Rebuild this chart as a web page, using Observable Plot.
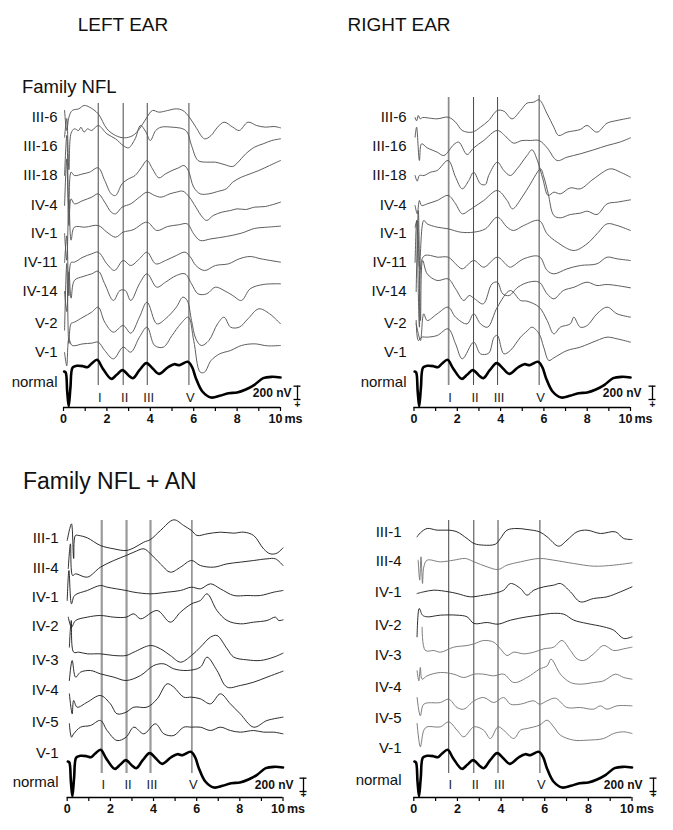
<!DOCTYPE html>
<html><head><meta charset="utf-8">
<script src="https://cdn.jsdelivr.net/npm/d3@7"></script>
<script src="https://cdn.jsdelivr.net/npm/@observablehq/plot@0.6"></script>
<style>
body{margin:0;background:#fff;}
#fig{position:relative;width:673px;height:830px;overflow:hidden;font-family:"Liberation Sans",Arial,sans-serif;background:#fff;}
.panel{position:absolute;}
#titles{position:absolute;left:0;top:0;}
</style></head><body><div id="fig"></div>
<script>
// ---------------- DATA ----------------
const earTitles = ["LEFT EAR", "RIGHT EAR"];
const familyTitles = ["Family NFL", "Family NFL + AN"];
const nflRows = ["III-6","III-16","III-18","IV-4","IV-1","IV-11","IV-14","V-2","V-1"];
const anRows = ["III-1","III-4","IV-1","IV-2","IV-3","IV-4","IV-5","V-1"];
const normalName = "normal";
const waveLabels = ["I","II","III","V"];
const waveLatencyMs = [1.6, 2.75, 3.86, 5.78];
const axisTicksMs = [0,1,2,3,4,5,6,7,8,9,10];
const xTickLabels = [0,2,4,6,8,10];
const timeUnit = "ms";
const scaleBarNV = 200;

// normal reference waveform: [ms, nV above axis]
const normalWave = [[0.03,540],[0.1,525],[0.17,240],[0.24,15],[0.32,300],[0.42,600],[0.6,625],[0.9,620],[1.1,605],[1.3,660],[1.55,715],[1.8,590],[2.2,430],[2.45,490],[2.72,560],[3.0,480],[3.2,440],[3.5,560],[3.82,665],[4.1,590],[4.4,505],[4.8,600],[5.1,650],[5.35,635],[5.72,685],[5.92,610],[6.1,440],[6.4,240],[6.8,150],[7.2,175],[7.6,215],[8.0,225],[8.4,270],[8.8,340],[9.2,440],[9.6,460],[10,450]];

// Family NFL, left ear: [ms, nV relative to row]
const nflLeftTraces = [
 [[0.05,105],[0.15,-195],[0.25,5],[0.4,105],[0.7,130],[0.95,180],[1.2,155],[1.6,55],[2.0,-170],[2.4,-270],[2.8,-305],[3.2,-270],[3.5,-170],[3.8,-20],[4.1,105],[4.4,80],[4.8,105],[5.2,130],[5.5,105],[5.8,5],[6.1,-145],[6.5,-320],[6.8,-270],[7.1,-145],[7.4,-70],[7.8,-145],[8.1,-195],[8.5,-70],[8.9,-120],[9.3,-145],[9.7,-135],[10,-155]],
 [[0.05,140],[0.15,420],[0.25,-350],[0.35,200],[0.5,265],[0.7,240],[0.8,290],[0.95,215],[1.1,265],[1.3,240],[1.6,315],[2.0,190],[2.4,115],[2.75,15],[3.0,-20],[3.3,115],[3.55,315],[3.8,215],[4.0,90],[4.25,240],[4.5,290],[5.0,290],[5.5,265],[5.7,215],[5.9,15],[6.2,-210],[6.6,-235],[7.0,-235],[7.4,-270],[7.8,-300],[8.0,-250],[8.4,-110],[8.8,-10],[9.2,40],[9.6,90],[10,115]],
 [[0.05,0],[0.15,600],[0.25,-500],[0.35,50],[0.5,0],[0.9,25],[1.2,50],[1.6,115],[1.9,-75],[2.2,-275],[2.4,-300],[2.7,-125],[3.0,-50],[3.3,0],[3.6,125],[3.85,225],[4.1,100],[4.4,-35],[4.7,25],[5.0,75],[5.3,115],[5.55,150],[5.75,75],[6.0,-175],[6.3,-275],[6.7,-275],[7.1,-240],[7.5,-200],[7.8,-100],[8.2,-25],[8.6,25],[9.0,75],[9.5,150],[10,225]],
 [[0.05,0],[0.15,700],[0.25,-300],[0.35,100],[0.5,25],[0.9,75],[1.3,125],[1.6,175],[1.9,50],[2.2,-100],[2.4,-125],[2.7,-25],[3.1,25],[3.5,125],[3.85,200],[4.2,150],[4.5,125],[4.9,175],[5.2,200],[5.5,215],[5.8,125],[6.1,-25],[6.4,-175],[6.6,-225],[6.9,-150],[7.3,-100],[7.7,-75],[8.0,-50],[8.4,-60],[8.8,-25],[9.3,-15],[10,50]],
 [[0.05,0],[0.15,-400],[0.25,500],[0.35,-100],[0.5,95],[1.0,95],[1.6,120],[2.0,20],[2.4,-55],[2.75,20],[3.2,55],[3.85,170],[4.3,45],[4.8,105],[5.3,130],[5.7,145],[6.0,-5],[6.3,-105],[6.8,-80],[7.5,-45],[8.2,5],[8.8,75],[9.4,95],[10,110]],
 [[0.05,0],[0.15,400],[0.25,-500],[0.35,0],[0.5,5],[0.9,80],[1.3,130],[1.6,155],[2.0,-20],[2.35,-120],[2.75,30],[3.1,-45],[3.5,55],[3.85,155],[4.25,-20],[4.7,30],[5.2,105],[5.6,155],[5.85,80],[6.1,-45],[6.5,-120],[7.0,-45],[7.6,-20],[8.1,55],[8.6,90],[9.1,55],[10,5]],
 [[0.05,0],[0.15,-300],[0.25,300],[0.35,-100],[0.5,165],[0.9,225],[1.3,265],[1.6,305],[1.9,115],[2.3,-135],[2.6,15],[2.85,15],[3.1,-135],[3.5,115],[3.85,265],[4.3,65],[4.7,140],[5.2,240],[5.6,265],[5.9,115],[6.2,-35],[6.6,-35],[7.0,65],[7.4,15],[7.8,-60],[8.2,-135],[8.6,40],[9.2,105],[10,115]],
 [[0.05,-100],[0.15,900],[0.25,-300],[0.35,0],[0.5,20],[0.9,95],[1.3,170],[1.6,245],[1.9,20],[2.3,-130],[2.75,-30],[3.1,-145],[3.5,95],[3.85,320],[4.3,-5],[4.7,70],[5.2,245],[5.5,395],[5.7,345],[5.9,45],[6.1,-230],[6.35,-330],[6.7,-255],[7.1,-5],[7.4,95],[7.7,-55],[8.1,-55],[8.5,70],[9.0,220],[9.5,145],[10,-5]],
 [[0.05,0],[0.15,-200],[0.25,200],[0.4,105],[0.9,130],[1.3,140],[1.6,155],[1.9,30],[2.3,-95],[2.75,80],[3.1,5],[3.5,230],[3.85,380],[4.2,105],[4.6,80],[5.0,255],[5.4,430],[5.75,530],[6.0,180],[6.3,-295],[6.5,-295],[6.8,-120],[7.2,-20],[7.7,30],[8.2,105],[8.8,130],[9.4,100],[10,105]]
];

// Family NFL, right ear
const nflRightTraces = [
 [[0.05,0],[0.12,-50],[0.2,30],[0.28,-20],[0.4,0],[0.61,-5],[1.07,-20],[1.58,5],[1.92,-70],[2.23,-195],[2.69,-220],[3.07,-145],[3.45,-45],[3.85,105],[4.15,95],[4.53,-20],[4.92,105],[5.22,215],[5.53,230],[5.78,265],[6.15,55],[6.46,-145],[6.68,-270],[7.07,-220],[7.68,-180],[7.99,-120],[8.45,-220],[8.92,-85],[9.38,-45],[10,-5]],
 [[0.05,140],[0.12,290],[0.25,-210],[0.35,40],[0.61,-20],[1.07,-85],[1.38,-135],[1.84,30],[2.07,65],[2.45,-120],[2.76,-20],[3.22,90],[3.85,240],[4.3,130],[4.6,50],[4.99,90],[5.38,90],[5.78,90],[6.15,-20],[6.61,-210],[7.07,-160],[7.68,-110],[8.3,-50],[8.92,15],[9.5,65],[10,130]],
 [[0.05,0],[0.15,-85],[0.25,0],[0.46,0],[0.77,50],[1.07,75],[1.58,225],[1.92,-25],[2.23,-200],[2.53,-75],[2.76,50],[3.07,-125],[3.3,-135],[3.45,0],[3.85,200],[4.15,75],[4.45,0],[4.76,100],[5.22,300],[5.45,385],[5.7,225],[5.95,-50],[6.2,-300],[6.46,-250],[6.76,-275],[7.22,-185],[7.68,-200],[8.3,-50],[9.07,100],[9.53,50],[10,-25]],
 [[0.05,0],[0.15,-125],[0.25,75],[0.35,0],[0.61,25],[1.07,75],[1.58,150],[1.92,25],[2.23,-125],[2.53,-75],[2.76,-25],[3.22,75],[3.85,225],[4.3,75],[4.55,-50],[4.99,125],[5.38,325],[5.7,500],[5.85,550],[6.0,425],[6.2,175],[6.46,-150],[6.76,-185],[7.22,-135],[7.68,-115],[8.0,-85],[8.45,-135],[8.92,25],[9.38,50],[10,85]],
 [[0.05,95],[0.15,195],[0.25,-505],[0.45,195],[0.61,145],[1.07,95],[1.58,70],[2.15,20],[2.76,20],[3.3,70],[3.85,245],[4.3,95],[4.6,45],[5.07,120],[5.78,195],[6.15,-5],[6.61,-130],[7.38,-255],[7.99,-155],[8.45,-5],[8.92,145],[9.38,120],[10,45]],
 [[0.05,0],[0.12,630],[0.25,-970],[0.35,30],[0.5,105],[0.77,105],[1.07,80],[1.58,80],[1.92,-20],[2.23,-95],[2.76,30],[3.22,-70],[3.85,80],[4.3,-45],[4.45,-70],[5.07,55],[5.78,90],[6.15,-120],[6.46,-170],[7.07,-95],[7.68,-45],[8.45,-20],[8.92,80],[9.38,55],[10,30]],
 [[0.1,0],[0.2,1215],[0.3,-435],[0.4,465],[0.61,265],[1.07,165],[1.58,190],[1.92,40],[2.3,-135],[2.55,-60],[2.8,-110],[3.2,-185],[3.6,115],[3.85,140],[4.1,-35],[4.4,-60],[4.8,65],[5.3,140],[5.78,140],[6.15,-35],[6.46,-110],[6.9,15],[7.4,65],[7.99,140],[8.45,90],[8.92,105],[10,55]],
 [[0.1,0],[0.2,-155],[0.3,-255],[0.45,145],[0.61,45],[1.07,145],[1.58,245],[1.92,95],[2.45,-5],[2.76,145],[3.07,-5],[3.4,-55],[3.85,245],[4.45,495],[4.92,345],[5.22,335],[5.78,245],[6.15,45],[6.46,-155],[6.76,-55],[7.22,-5],[7.38,95],[7.68,-55],[8.0,-30],[8.45,145],[8.92,245],[9.38,145],[10,95]],
 [[0.1,480],[0.2,180],[0.35,230],[0.61,230],[1.07,255],[1.58,355],[1.92,130],[2.23,-95],[2.76,155],[3.07,-20],[3.45,-10],[3.7,230],[3.85,255],[4.15,-20],[4.45,30],[4.92,230],[5.22,320],[5.45,380],[5.78,280],[5.99,80],[6.23,-120],[6.46,-80],[7.07,30],[7.68,80],[8.45,180],[8.92,230],[9.38,205],[10,155]]
];

// Family NFL + AN, left ear
const anLeftTraces = [
 [[0.0,-30],[0.12,150],[0.2,220],[0.3,-300],[0.38,45],[0.54,45],[0.93,10],[1.54,-105],[2.16,-155],[2.73,-180],[3.09,-140],[3.55,-55],[3.86,-15],[4.32,120],[4.94,280],[5.4,195],[5.76,120],[6.02,45],[6.48,70],[7.1,95],[7.72,80],[8.18,95],[8.64,45],[9.1,-155],[9.41,-230],[9.72,-220],[10,-140]],
 [[0.05,0],[0.15,370],[0.25,-105],[0.39,-80],[0.93,-130],[1.54,20],[2.16,120],[2.73,195],[3.09,245],[3.55,295],[3.86,220],[4.32,70],[4.78,-55],[5.25,20],[5.76,120],[6.17,45],[6.79,20],[7.41,70],[8.02,95],[8.64,120],[9.26,145],[9.65,145],[10,45]],
 [[0.0,-75],[0.08,375],[0.2,-125],[0.34,0],[0.93,75],[1.54,150],[1.85,125],[2.73,75],[3.09,50],[3.86,25],[4.63,50],[5.25,75],[5.76,125],[6.17,100],[6.64,175],[7.1,100],[7.72,0],[8.33,0],[8.95,0],[9.57,50],[10,75]],
 [[0.05,50],[0.2,-100],[0.39,0],[0.93,50],[1.54,75],[2.16,50],[2.73,50],[3.09,100],[3.4,25],[4.17,150],[4.78,-25],[5.25,125],[5.76,250],[6.17,300],[6.48,400],[6.94,150],[7.41,0],[8.02,-50],[8.64,-25],[9.26,0],[9.65,50],[9.8,0],[10,10]],
 [[0.1,80],[0.19,480],[0.3,5],[0.54,5],[0.93,-20],[1.54,-20],[2.16,-45],[2.73,-45],[3.09,5],[3.86,105],[4.32,55],[4.78,-45],[5.25,-145],[5.76,-45],[6.17,80],[6.64,230],[6.94,255],[7.41,55],[7.72,-70],[8.33,-110],[8.95,-120],[9.57,-70],[10,-10]],
 [[0.1,-75],[0.23,225],[0.39,-25],[0.62,50],[1.08,75],[1.54,25],[2.16,-25],[2.73,-75],[3.4,0],[4.01,150],[4.48,175],[4.94,100],[5.56,75],[6.17,125],[6.48,275],[6.94,75],[7.41,-175],[8.02,-150],[8.64,-100],[9.26,-25],[10,65]],
 [[0.1,130],[0.23,-170],[0.3,30],[0.46,-70],[0.93,5],[1.54,105],[2.0,-20],[2.31,-170],[2.73,-145],[3.09,-70],[3.7,-70],[4.17,55],[4.63,280],[4.94,230],[5.4,80],[5.76,80],[6.17,55],[6.64,-20],[7.1,130],[7.56,-20],[8.02,-170],[8.64,-370],[9.26,-270],[10,-220]],
 [[0.1,100],[0.2,-100],[0.3,-50],[0.62,50],[1.08,75],[1.54,150],[1.85,0],[2.31,-150],[2.73,-100],[3.09,50],[3.55,-50],[4.09,100],[4.48,-50],[4.94,-75],[5.4,50],[5.76,50],[6.17,50],[6.64,0],[7.1,50],[7.56,0],[8.02,-25],[8.64,0],[9.1,-25],[9.57,-25],[10,-50]]
];

// Family NFL + AN, right ear
const anRightTraces = [
 [[0.15,-50],[0.3,10],[0.61,75],[1.07,50],[1.6,50],[1.98,25],[2.44,-75],[2.76,-150],[3.2,-175],[3.74,-160],[3.97,-75],[4.27,50],[4.73,75],[5.19,60],[5.76,25],[6.11,-50],[6.64,-190],[7.02,-100],[7.48,25],[7.94,50],[8.55,0],[9.24,25],[9.62,-75],[10,-90]],
 [[0.2,50],[0.27,-250],[0.33,100],[0.4,-300],[0.46,-50],[0.61,50],[1.22,25],[1.83,50],[2.37,75],[2.76,25],[3.36,-50],[3.86,-90],[4.27,-25],[4.89,25],[5.76,75],[6.41,50],[7.33,0],[8.24,-40],[9.16,-25],[10,10]],
 [[0.15,0],[0.46,25],[0.92,50],[1.6,25],[1.98,0],[2.59,-50],[3.2,-25],[3.66,0],[4.12,50],[4.43,150],[4.89,75],[5.19,-25],[5.5,50],[5.96,100],[6.41,125],[6.72,150],[7.18,25],[7.63,-125],[8.24,-75],[8.85,-50],[9.47,25],[10,100]],
 [[0.15,-275],[0.25,150],[0.4,50],[0.61,25],[1.22,50],[1.98,50],[2.44,25],[2.76,-75],[3.36,-60],[3.86,-85],[4.43,-25],[5.19,25],[5.76,50],[6.26,75],[6.87,65],[7.33,-25],[7.94,-75],[8.7,-125],[9.16,-175],[9.62,-300],[10,-275]],
 [[0.38,350],[0.53,0],[0.92,0],[1.22,-25],[1.83,50],[2.44,75],[2.76,100],[3.2,150],[3.66,125],[3.97,25],[4.27,-75],[4.58,-25],[5.04,-50],[5.5,-25],[5.96,25],[6.41,50],[6.79,150],[7.18,0],[7.48,-125],[7.79,-150],[8.24,-50],[8.7,75],[9.16,0],[9.62,25],[10,50]],
 [[0.15,100],[0.23,-50],[0.3,150],[0.38,-25],[0.61,25],[1.22,75],[1.83,50],[2.29,0],[2.76,50],[3.2,50],[3.66,25],[4.12,50],[4.58,-75],[5.19,0],[5.76,125],[6.11,175],[6.29,275],[6.72,50],[7.18,-75],[7.63,-100],[8.24,-75],[8.7,-50],[9.24,50],[9.62,0],[10,-25]],
 [[0.15,75],[0.3,-200],[0.46,-25],[1.22,0],[1.6,50],[1.98,-75],[2.29,-100],[2.76,25],[3.2,75],[3.66,0],[4.12,75],[4.43,-25],[4.89,-25],[5.5,25],[5.76,-25],[6.11,25],[6.49,65],[7.02,-75],[7.63,-75],[8.24,-100],[8.55,-50],[8.85,-100],[9.31,-50],[10,-50]],
 [[0.15,75],[0.3,-275],[0.46,-25],[0.61,25],[1.22,25],[1.6,100],[1.98,-25],[2.29,-125],[2.76,25],[3.2,-25],[3.51,-150],[3.86,25],[4.12,-25],[4.58,-150],[4.89,-25],[5.19,0],[5.76,50],[6.11,125],[6.41,25],[6.72,-100],[7.33,-175],[7.94,-175],[8.7,-150],[9.16,-75],[9.62,-50],[10,-75]]
];

// ---------------- LAYOUT ----------------
const K = 15; // nV per pixel of the drawing
const FONT = "'Liberation Sans', Arial, Helvetica, sans-serif";
const topRowsY = [117,146,175,205,233,262,291,323,352];
const grey = "#555";
const panels = [
 {left:0, top:50, width:336, height:380, x0:63, x10:280, axisY:407, rows:nflRows, traces:nflLeftTraces,
  rowY:topRowsY, labelY:topRowsY, normalLabelY:382, labelRight:57,
  vTop:[103,103,103,103], vBot:385, vStyle:[["#333",0.9],["#333",0.9],["#333",0.9],["#333",0.9]],
  romanY:397, barX:297, barBotY:399, barTextRight:291, plusY:405, tickLabelY:418.5, colors:Array(9).fill(grey)},
 {left:336, top:50, width:337, height:380, x0:413.5, x10:630, axisY:407, rows:nflRows, traces:nflRightTraces,
  rowY:topRowsY, labelY:topRowsY, normalLabelY:382, labelRight:406,
  vTop:[97,97,97,95], vBot:385, vStyle:[["#8a8a8a",1.7],["#333",0.9],["#333",0.9],["#333",0.9]],
  romanY:397, barX:652, barBotY:399, barTextRight:641, plusY:405, tickLabelY:418.5, colors:Array(9).fill(grey)},
 {left:0, top:450, width:336, height:380, x0:66.7, x10:282.5, axisY:797, rows:anRows, traces:anLeftTraces,
  rowY:[538,568,595,620,652,675,702,730], labelY:[538,568,597,626,660,690,722,753], normalLabelY:782, labelRight:58,
  vTop:[520,520,520,520], vBot:773, vStyle:[["#9a9a9a",2.2],["#9a9a9a",2.2],["#9a9a9a",2.2],["#333",0.9]],
  romanY:784, barX:303, barBotY:791, barTextRight:293, plusY:795, tickLabelY:808.5, colors:Array(8).fill("#222")},
 {left:336, top:450, width:337, height:380, x0:413.3, x10:631.5, axisY:797, rows:anRows, traces:anRightTraces,
  rowY:[533,563,593,618,650,677,702,728], labelY:[532,561,592,625,655,687,718,748], normalLabelY:780, labelRight:401,
  vTop:[520,520,520,520], vBot:773, vStyle:[["#444",1],["#444",1],["#444",1],["#444",1]],
  romanY:784, barX:653, barBotY:791, barTextRight:642, plusY:795, tickLabelY:808.5,
  colors:["#222","#777","#222","#222","#777","#777","#777","#777"]}
];

const fig = document.getElementById("fig");

// titles (annotation layer)
const ns = "http://www.w3.org/2000/svg";
const tsvg = document.createElementNS(ns, "svg");
tsvg.setAttribute("id","titles"); tsvg.setAttribute("width",673); tsvg.setAttribute("height",830);
function addText(str, x, y, size, anchor) {
  const t = document.createElementNS(ns, "text");
  t.setAttribute("x", x); t.setAttribute("y", y);
  t.setAttribute("font-size", size); t.setAttribute("font-family", FONT);
  t.setAttribute("text-anchor", anchor); t.setAttribute("fill", "#111");
  t.textContent = str; tsvg.appendChild(t);
}
addText(earTitles[0], 123, 31, 19, "middle");
addText(earTitles[1], 399, 31, 19, "middle");
addText(familyTitles[0], 22, 93, 18.5, "start");
addText(familyTitles[1], 23, 489, 23, "start");
fig.appendChild(tsvg);

function buildPanel(c) {
  const pxPerMs = (c.x10 - c.x0) / 10;
  const nv = py => (c.axisY - py) * K;       // page y -> nV
  const ms = px => (px - c.x0) / pxPerMs;    // page x -> ms
  const yTop = (c.axisY - c.top) * K;
  const yBot = -(c.top + c.height - c.axisY) * K;
  const marks = [];
  waveLatencyMs.forEach((t, i) => {
    marks.push(Plot.ruleX([t], {y1: nv(c.vBot), y2: nv(c.vTop[i]), stroke: c.vStyle[i][0], strokeWidth: c.vStyle[i][1]}));
  });
  c.traces.forEach((tr, i) => {
    const off = nv(c.rowY[i]);
    marks.push(Plot.line(tr, {x: d => d[0], y: d => d[1] + off, curve: "catmull-rom",
      stroke: c.colors[i], strokeWidth: 0.95}));
  });
  marks.push(Plot.line(normalWave, {x: d => d[0], y: d => d[1], curve: "catmull-rom", stroke: "#000", strokeWidth: 2.6}));
  // axis
  const ty = nv(c.tickLabelY);
  marks.push(Plot.ruleY([0], {x1: 0, x2: 10, stroke: "#000", strokeWidth: 1.3}));
  marks.push(Plot.ruleX(axisTicksMs, {x: d => d, y1: 0, y2: -4 * K, stroke: "#000", strokeWidth: 1.2}));
  marks.push(Plot.text(xTickLabels.filter(d => d < 10), {x: d => d, y: ty, text: d => String(d), fontWeight: "bold", fontSize: 12.5, fill: "#111"}));
  marks.push(Plot.text(xTickLabels.filter(d => d === 10), {x: d => d, y: ty, dx: -5, text: d => String(d), fontWeight: "bold", fontSize: 12.5, fill: "#111"}));
  marks.push(Plot.text([timeUnit], {x: 10, y: ty, dx: 4, textAnchor: "start", text: d => d, fontWeight: "bold", fontSize: 12.5, fill: "#111"}));
  // wave labels
  marks.push(Plot.text(waveLabels, {x: (d, i) => waveLatencyMs[i], y: nv(c.romanY), dx: 1.5, text: d => d, fontSize: 13, fill: "#222"}));
  // row labels
  marks.push(Plot.text(c.rows, {x: ms(c.labelRight), y: (d, i) => nv(c.labelY[i]), text: d => d, textAnchor: "end", fontSize: 15, fill: "#111"}));
  marks.push(Plot.text([normalName], {x: ms(c.labelRight), y: nv(c.normalLabelY), text: d => d, textAnchor: "end", fontSize: 15, fill: "#111"}));
  // scale bar
  const bx = ms(c.barX), bb = nv(c.barBotY), cap = 3.5 / pxPerMs;
  marks.push(Plot.ruleX([bx], {y1: bb, y2: bb + scaleBarNV, stroke: "#000", strokeWidth: 1.3}));
  marks.push(Plot.ruleY([bb, bb + scaleBarNV], {x1: bx - cap, x2: bx + cap, stroke: "#000", strokeWidth: 1.3}));
  marks.push(Plot.text([`${scaleBarNV} nV`], {x: ms(c.barTextRight), y: bb + scaleBarNV / 2, textAnchor: "end", text: d => d, fontWeight: "bold", fontSize: 12, fill: "#111"}));
  marks.push(Plot.text(["+"], {x: bx, y: nv(c.plusY), text: d => d, fontWeight: "bold", fontSize: 10, lineHeight: 0.8, fill: "#111"}));

  const svg = Plot.plot({
    width: c.width, height: c.height,
    marginTop: 0, marginRight: 0, marginBottom: 0, marginLeft: 0,
    style: {fontFamily: FONT, background: "transparent", overflow: "visible"},
    x: {domain: [0, 10], range: [c.x0 - c.left, c.x10 - c.left], axis: null},
    y: {domain: [yBot, yTop], range: [c.height, 0], axis: null},
    marks
  });
  const div = document.createElement("div");
  div.className = "panel";
  div.style.left = c.left + "px"; div.style.top = c.top + "px";
  div.appendChild(svg);
  fig.appendChild(div);
}
panels.forEach(buildPanel);
</script>
</body></html>
